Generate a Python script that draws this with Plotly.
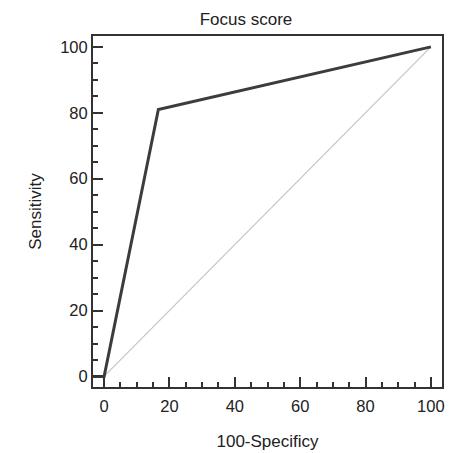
import plotly.graph_objects as go

# ROC curve data (100-Specificity vs Sensitivity)
roc_x = [-3.4, 0, 16.6, 100]
roc_y = [0, 0, 81, 100]
ref_x = [0, 100]
ref_y = [0, 100]

x_ticks = [0, 20, 40, 60, 80, 100]
y_ticks = [0, 20, 40, 60, 80, 100]

font_family = "Liberation Sans, Arial, sans-serif"
dark = "#333333"

fig = go.Figure()
fig.add_trace(go.Scatter(x=ref_x, y=ref_y, mode="lines",
                         line=dict(color="#c4c4c4", width=1.2), showlegend=False))
fig.add_trace(go.Scatter(x=roc_x, y=roc_y, mode="lines",
                         line=dict(color="#3c3c3c", width=3), showlegend=False))

axis_common = dict(
    showgrid=False, zeroline=False, automargin=False,
    showline=True, linecolor=dark, linewidth=2, mirror=True,
    ticks="inside", ticklen=10, tickwidth=2, tickcolor=dark,
    minor=dict(ticks="inside", ticklen=5, tickwidth=2, tickcolor=dark, dtick=5, showgrid=False),
    tickfont=dict(family=font_family, size=16.5, color="#222222"),
)

fig.update_layout(
    width=451, height=453,
    margin=dict(l=93, r=9, t=36, b=66),
    paper_bgcolor="white", plot_bgcolor="white",
    font=dict(family=font_family, color="#222222"),
    title=dict(text="Focus score", font=dict(size=17, color="#222222"),
               xref="container", x=246/451, xanchor="center",
               yref="container", y=1 - 19/453, yanchor="middle",
               automargin=False),
    xaxis=dict(axis_common, range=[-3.4, 103.4], tickvals=x_ticks,
               ticklabelstandoff=3,
               title=dict(text="100-Specificy", font=dict(size=17), standoff=21)),
    yaxis=dict(axis_common, range=[-3.2, 103.3], tickvals=y_ticks,
               title=dict(text="Sensitivity", font=dict(size=17), standoff=14)),
)

fig.write_html("out.html", config={"displayModeBar": False},
               post_script="document.body.style.margin='0';document.body.style.overflow='hidden';")
